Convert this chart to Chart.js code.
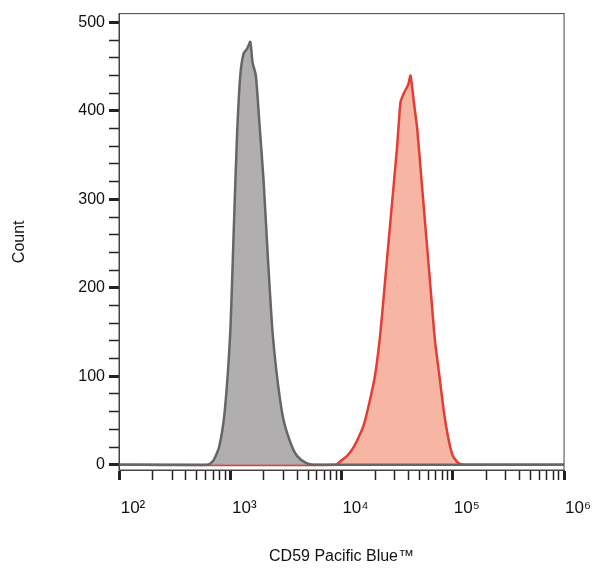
<!DOCTYPE html>
<html>
<head>
<meta charset="utf-8">
<script src="https://cdn.jsdelivr.net/npm/chart.js@4"></script>
<style>
  html, body { margin: 0; padding: 0; background: #fff; }
  #wrap { width: 595px; height: 570px; }
</style>
</head>
<body>
<div id="wrap"><canvas id="histChart"></canvas></div>
<script>
// x values are log10 of fluorescence intensity
const isotypeX = [2.0, 2.8, 2.85, 2.9, 2.95, 3.0, 3.03, 3.06, 3.09, 3.12, 3.15, 3.18, 3.2, 3.23, 3.26, 3.3, 3.34, 3.38, 3.43, 3.48, 3.55, 3.6, 3.68, 3.75, 6.0];
const isotypeY = [0, 0, 5, 20, 60, 150, 260, 370, 440, 465, 470, 478, 455, 440, 390, 320, 230, 150, 90, 50, 22, 10, 2, 0, 0];
const cd59X = [2.0, 3.95, 4.0, 4.05, 4.1, 4.15, 4.2, 4.25, 4.3, 4.35, 4.4, 4.45, 4.5, 4.53, 4.56, 4.6, 4.62, 4.65, 4.68, 4.72, 4.76, 4.8, 4.84, 4.88, 4.92, 4.96, 5.0, 5.05, 5.1, 6.0];
const cd59Y = [0, 0, 5, 10, 18, 30, 45, 70, 100, 150, 220, 290, 360, 410, 420, 430, 440, 410, 380, 320, 260, 200, 140, 100, 60, 30, 10, 2, 0, 0];
const decadeLabels = ["10²", "10³", "10⁴", "10⁵", "10⁶"];

const toPoints = (xs, ys) => xs.map((x, i) => ({ x: x, y: ys[i] }));

const frame = {
    id: "frame",
    afterDraw(chart) {
        const a = chart.chartArea, c = chart.ctx;
        c.save();
        c.strokeStyle = "#444";
        c.lineWidth = 1;
        c.strokeRect(a.left, a.top, a.right - a.left, a.bottom - a.top);
        c.restore();
    }
};

new Chart(document.getElementById("histChart"), {
    type: "line",
    data: {
        datasets: [{
            data: toPoints(isotypeX, isotypeY),
            borderColor: "#666666",
            backgroundColor: "rgba(172,170,170,0.95)",
            borderWidth: 2.5,
            pointRadius: 0,
            tension: 0.2,
            fill: "origin"
        }, {
            data: toPoints(cd59X, cd59Y),
            borderColor: "#e43d36",
            backgroundColor: "rgba(247,178,158,0.95)",
            borderWidth: 2.5,
            pointRadius: 0,
            tension: 0.2,
            fill: "origin"
        }]
    },
    options: {
        responsive: true,
        maintainAspectRatio: false,
        animation: false,
        layout: { padding: { top: 10, right: 17, left: 0, bottom: 0 } },
        plugins: { legend: { display: false }, tooltip: { enabled: false } },
        scales: {
            x: {
                type: "linear",
                min: 2, max: 6,
                afterBuildTicks: (axis) => {
                    const t = [];
                    for (let d = 2; d < 6; d++) {
                        for (let k = 1; k < 10; k++) t.push({ value: d + Math.log10(k) });
                    }
                    t.push({ value: 6 });
                    axis.ticks = t;
                },
                afterFit: (axis) => { axis.height = 100; },
                ticks: {
                    autoSkip: false,
                    maxRotation: 0,
                    color: "#111",
                    font: { family: "Liberation Sans", size: 17 },
                    padding: 18,
                    labelOffset: 14,
                    callback: (v) => Math.abs(v - Math.round(v)) < 1e-6 ? decadeLabels[Math.round(v) - 2] : ""
                },
                grid: {
                    drawOnChartArea: false,
                    tickLength: 10,
                    tickWidth: (ctx) => ctx.tick && Math.abs(ctx.tick.value - Math.round(ctx.tick.value)) < 1e-6 ? 3 : 1.5,
                    color: "#222"
                },
                border: { color: "#444", width: 1 },
                title: {
                    display: true, text: "CD59 Pacific Blue™", color: "#111",
                    font: { family: "Liberation Sans", size: 16 }, padding: { top: 0 }
                }
            },
            y: {
                min: -6, max: 510,
                afterBuildTicks: (axis) => {
                    const t = [];
                    for (let v = 0; v <= 500; v += 20) t.push({ value: v });
                    axis.ticks = t;
                },
                afterFit: (axis) => { axis.width = 119; },
                ticks: {
                    autoSkip: false,
                    color: "#111",
                    font: { family: "Liberation Sans", size: 16 },
                    padding: 4,
                    callback: (v) => v % 100 === 0 ? String(v) : ""
                },
                grid: {
                    drawOnChartArea: false,
                    tickLength: 10,
                    tickWidth: (ctx) => ctx.tick && ctx.tick.value % 100 === 0 ? 3 : 1.5,
                    color: "#222"
                },
                border: { color: "#444", width: 1 },
                title: {
                    display: true, text: "Count", color: "#111",
                    font: { family: "Liberation Sans", size: 16 }, padding: { top: 10, bottom: 40 }
                }
            }
        }
    },
    plugins: [frame]
});
</script>
</body>
</html>
